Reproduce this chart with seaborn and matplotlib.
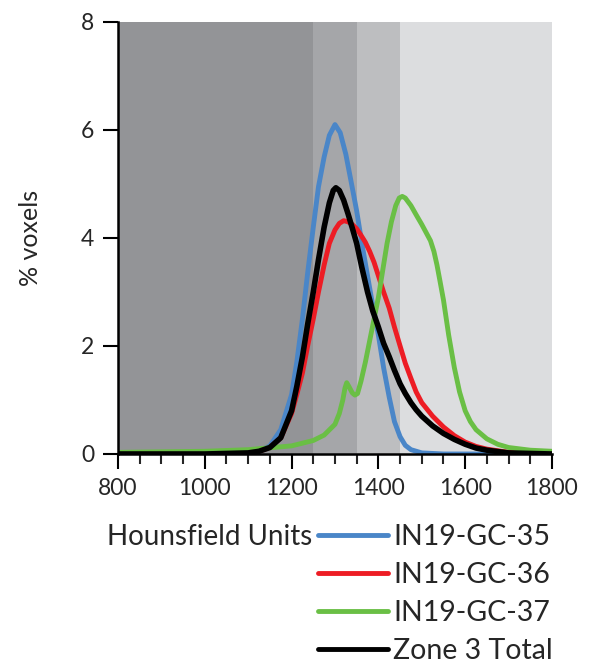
import pandas as pd
import matplotlib
matplotlib.use("Agg")
import matplotlib.pyplot as plt
from matplotlib.lines import Line2D
from matplotlib.ticker import MultipleLocator
import seaborn as sns

# ---- data ----
hu_35 = [800, 1000, 1100, 1125, 1150, 1175, 1200, 1212, 1225, 1237, 1250, 1262, 1275,
         1287, 1300, 1312, 1325, 1337, 1350, 1362, 1375, 1387, 1400, 1412, 1425, 1437,
         1450, 1462, 1475, 1500, 1550, 1800]
pct_35 = [0.0, 0.0, 0.02, 0.05, 0.15, 0.45, 1.1, 1.7, 2.5, 3.35, 4.2, 4.95, 5.5,
          5.9, 6.1, 5.95, 5.55, 5.05, 4.5, 3.9, 3.3, 2.75, 2.2, 1.6, 1.05, 0.6,
          0.32, 0.16, 0.08, 0.02, 0.0, 0.0]

hu_36 = [800, 1000, 1100, 1125, 1150, 1175, 1200, 1212, 1225, 1237, 1250, 1262, 1275,
         1287, 1300, 1310, 1320, 1330, 1340, 1350, 1360, 1370, 1380, 1390, 1400, 1412,
         1425, 1437, 1450, 1462, 1475, 1487, 1500, 1525, 1550, 1575, 1600, 1625, 1650,
         1700, 1800]
pct_36 = [0.0, 0.0, 0.02, 0.05, 0.12, 0.3, 0.75, 1.1, 1.5, 2.0, 2.5, 3.0, 3.5,
          3.9, 4.15, 4.27, 4.32, 4.3, 4.25, 4.17, 4.05, 3.92, 3.75, 3.55, 3.3, 3.0,
          2.7, 2.35, 2.0, 1.68, 1.4, 1.15, 0.95, 0.7, 0.5, 0.34, 0.22, 0.14, 0.09,
          0.03, 0.0]

hu_37 = [800, 1000, 1100, 1200, 1250, 1275, 1300, 1310, 1318, 1323, 1327, 1332, 1340,
         1346, 1352, 1360, 1370, 1380, 1390, 1400, 1410, 1420, 1430, 1440, 1448, 1455,
         1462, 1475, 1487, 1500, 1510, 1520, 1528, 1535, 1542, 1550, 1562, 1575, 1587,
         1600, 1612, 1625, 1650, 1675, 1700, 1750, 1800]
pct_37 = [0.03, 0.05, 0.08, 0.15, 0.25, 0.35, 0.55, 0.75, 1.0, 1.22, 1.32, 1.25, 1.13,
          1.09, 1.12, 1.35, 1.7, 2.1, 2.5, 2.9, 3.4, 3.9, 4.3, 4.6, 4.74, 4.77,
          4.74, 4.6, 4.43, 4.25, 4.1, 3.95, 3.75, 3.5, 3.2, 2.85, 2.2, 1.6, 1.15,
          0.8, 0.6, 0.45, 0.28, 0.18, 0.12, 0.07, 0.05]

hu_tot = [800, 1000, 1100, 1125, 1150, 1175, 1200, 1212, 1225, 1237, 1250, 1262, 1275,
          1287, 1296, 1302, 1310, 1320, 1330, 1340, 1350, 1362, 1375, 1387, 1400, 1412,
          1425, 1437, 1450, 1462, 1475, 1487, 1500, 1525, 1550, 1575, 1600, 1625, 1650,
          1700, 1800]
pct_tot = [0.0, 0.0, 0.02, 0.05, 0.12, 0.3, 0.8, 1.25, 1.8, 2.4, 3.0, 3.6, 4.2,
           4.65, 4.88, 4.93, 4.88, 4.7, 4.45, 4.18, 3.9, 3.45, 3.0, 2.65, 2.35, 2.05,
           1.8, 1.55, 1.3, 1.12, 0.95, 0.82, 0.7, 0.52, 0.38, 0.27, 0.18, 0.11, 0.07,
           0.02, 0.0]

series = ["IN19-GC-35", "IN19-GC-36", "IN19-GC-37", "Zone 3 Total"]
colors = ["#4a86c8", "#ed1c24", "#6abf45", "#000000"]

# background bands (HU edges) and shades
band_edges = [800, 1250, 1350, 1450, 1800]
band_colors = ["#939497", "#a5a6a9", "#bdbec0", "#dcdddf"]

df = pd.concat([
    pd.DataFrame({"hu": hu_35, "pct": pct_35, "sample": series[0]}),
    pd.DataFrame({"hu": hu_36, "pct": pct_36, "sample": series[1]}),
    pd.DataFrame({"hu": hu_37, "pct": pct_37, "sample": series[2]}),
    pd.DataFrame({"hu": hu_tot, "pct": pct_tot, "sample": series[3]}),
])

sns.set_style("ticks")
plt.rcParams["font.family"] = ["Lato", "DejaVu Sans"]

fig = plt.figure(figsize=(5.95, 6.64), dpi=100)
ax = fig.add_axes([0.1983, 0.3163, 0.7294, 0.6506])

for i in range(len(band_colors)):
    ax.axvspan(band_edges[i], band_edges[i + 1], color=band_colors[i], lw=0, zorder=0)

palette = dict(zip(series, colors))
sns.lineplot(data=df, x="hu", y="pct", hue="sample", hue_order=series,
             palette=palette, estimator=None, linewidth=3.5, legend=False, ax=ax)
for ln in ax.get_lines():
    ln.set_solid_joinstyle("round")
    ln.set_solid_capstyle("round")
# black total a bit heavier
ax.get_lines()[-1].set_linewidth(4.0)

ax.set_xlim(800, 1800)
ax.set_ylim(0, 8)
ax.set_yticks([0, 2, 4, 6, 8])
ax.xaxis.set_major_locator(MultipleLocator(200))
ax.xaxis.set_minor_locator(MultipleLocator(50))
ax.tick_params(axis="both", which="major", length=11, width=1.5, labelsize=16.5,
               direction="out", color="black", pad=6)
ax.tick_params(axis="x", which="minor", length=7, width=1.5, direction="out")
ax.set_xlabel("")
ax.set_ylabel("% voxels", fontsize=18, labelpad=28)

sns.despine(ax=ax)
for s in ["left", "bottom"]:
    ax.spines[s].set_linewidth(1.8)
    ax.spines[s].set_color("black")

fig.text(312 / 595, 1 - 537 / 664, "Hounsfield Units", ha="right", va="center",
         fontsize=20)

handles = [Line2D([0], [0], color=c, lw=3.5) for c in colors]
fig.legend(handles, series, loc="upper left", bbox_to_anchor=(318 / 595, 1 - 524 / 664),
           frameon=False, fontsize=20.5, handlelength=2.45, handletextpad=0.18,
           labelspacing=0.42, borderpad=0, borderaxespad=0)

fig.savefig("out.png", dpi=100)
